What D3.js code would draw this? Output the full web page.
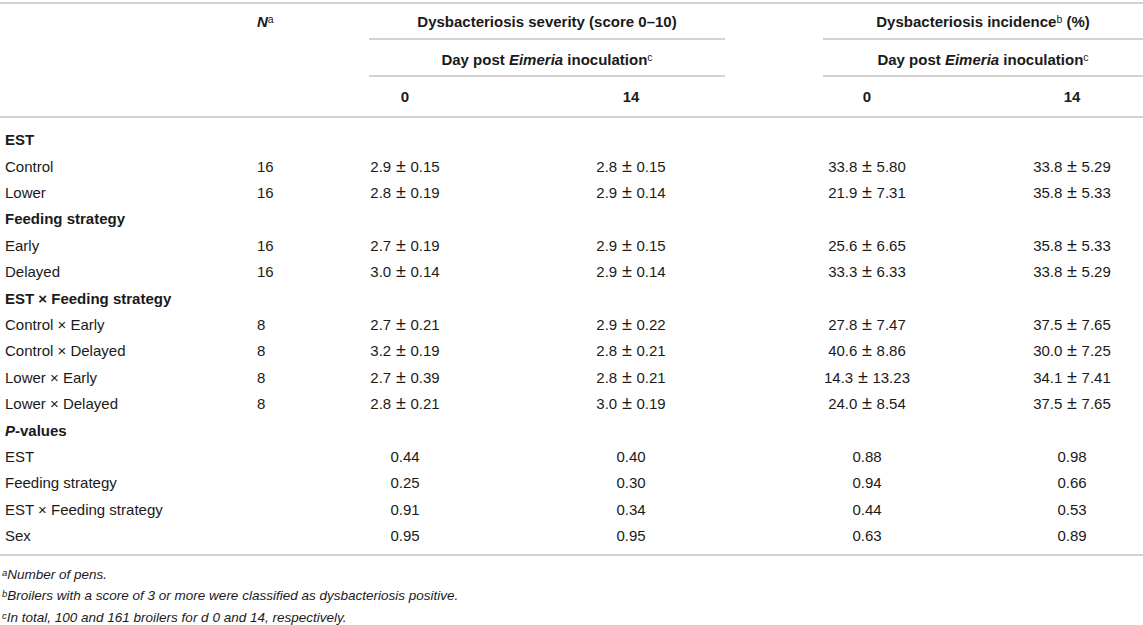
<!DOCTYPE html>
<html>
<head>
<meta charset="utf-8">
<script src="https://cdn.jsdelivr.net/npm/d3@7"></script>
<style>
    body { margin: 0; background: #fff; }
    svg text { font-family: "Liberation Sans", Arial, Helvetica, sans-serif; fill: #1a1a1a; }
</style>
</head>
<body>
<div id="chart"></div>
<script>
// Treatment rows
const groupLabels = ["EST", "Feeding strategy", "EST × Feeding strategy"];
const rowLabels = ["Control", "Lower", "Early", "Delayed",
    "Control × Early", "Control × Delayed", "Lower × Early", "Lower × Delayed"];
const rowGroup = [0, 0, 1, 1, 2, 2, 2, 2];
const nPens = [16, 16, 16, 16, 8, 8, 8, 8];

// Dysbacteriosis severity (mean, SE)
const sev0Mean = [2.9, 2.8, 2.7, 3.0, 2.7, 3.2, 2.7, 2.8];
const sev0SE = [0.15, 0.19, 0.19, 0.14, 0.21, 0.19, 0.39, 0.21];
const sev14Mean = [2.8, 2.9, 2.9, 2.9, 2.9, 2.8, 2.8, 3.0];
const sev14SE = [0.15, 0.14, 0.15, 0.14, 0.22, 0.21, 0.21, 0.19];

// Dysbacteriosis incidence (mean, SE)
const inc0Mean = [33.8, 21.9, 25.6, 33.3, 27.8, 40.6, 14.3, 24.0];
const inc0SE = [5.80, 7.31, 6.65, 6.33, 7.47, 8.86, 13.23, 8.54];
const inc14Mean = [33.8, 35.8, 35.8, 33.8, 37.5, 30.0, 34.1, 37.5];
const inc14SE = [5.29, 5.33, 5.33, 5.29, 7.65, 7.25, 7.41, 7.65];

// P-values
const pLabels = ["EST", "Feeding strategy", "EST × Feeding strategy", "Sex"];
const sevP0 = [0.44, 0.25, 0.91, 0.95];
const sevP14 = [0.40, 0.30, 0.34, 0.95];
const incP0 = [0.88, 0.94, 0.44, 0.63];
const incP14 = [0.98, 0.66, 0.53, 0.89];

const dayLabels = ["0", "14"];
const footnotes = [
    {sup: "a", text: "Number of pens."},
    {sup: "b", text: "Broilers with a score of 3 or more were classified as dysbacteriosis positive."},
    {sup: "c", text: "In total, 100 and 161 broilers for d 0 and 14, respectively."}
];

const width = 1143, height = 625;
const lineColor = "#c4c4c4";

const svg = d3.select("#chart").append("svg")
    .attr("width", width)
    .attr("height", height);

// Column centres
const colX = d3.scaleOrdinal()
    .domain(["sev0", "sev14", "inc0", "inc14"])
    .range([405, 631, 867, 1072]);
const labelX = 5, nX = 257;

// Body rows (16 lines: groups, treatments, p-values)
const y = d3.scaleLinear().domain([0, 15]).range([140, 536]);

const fmt1 = d3.format(".1f"), fmt2 = d3.format(".2f");

function hline(x1, x2, yy) {
    svg.append("line")
        .attr("x1", x1).attr("x2", x2)
        .attr("y1", yy).attr("y2", yy)
        .attr("stroke", lineColor)
        .attr("stroke-width", 1.5);
}

function txt(x, yy, anchor, weight) {
    return svg.append("text")
        .attr("x", x).attr("y", yy)
        .attr("dy", "0.35em")
        .attr("text-anchor", anchor)
        .style("font-size", "15px")
        .style("font-weight", weight || "normal");
}

// mean ± SE, the sign a little larger than the digits
function pmCell(x, yy, m, s) {
    const t = txt(x, yy, "middle");
    t.append("tspan").text(fmt1(m) + " ");
    t.append("tspan").attr("dx", 0.5).style("font-size", "18px").text("±");
    t.append("tspan").attr("dx", 0.5).text(" " + fmt2(s));
    return t;
}

function sup(t, s) {
    t.append("tspan")
        .attr("baseline-shift", "35%")
        .style("font-size", "10.5px")
        .style("font-weight", "normal")
        .text(s);
}

// Header
hline(0, width, 3);
const hN = txt(nX, 22, "start", "bold");
hN.append("tspan").style("font-style", "italic").text("N");
sup(hN, "a");

txt(547, 22, "middle", "bold").text("Dysbacteriosis severity (score 0–10)");
const hInc = txt(983, 22, "middle", "bold");
hInc.append("tspan").text("Dysbacteriosis incidence");
sup(hInc, "b");
hInc.append("tspan").text(" (%)");

hline(369, 725, 39);
hline(823, width, 39);

[547, 983].forEach(cx => {
    const t = txt(cx, 60, "middle", "bold");
    t.append("tspan").text("Day post ");
    t.append("tspan").style("font-style", "italic").text("Eimeria");
    t.append("tspan").text(" inoculation");
    sup(t, "c");
});

hline(369, 725, 76);
hline(823, width, 76);

["sev0", "sev14", "inc0", "inc14"].forEach((k, i) => {
    txt(colX(k), 97, "middle", "bold").text(dayLabels[i % 2]);
});

hline(0, width, 117);

// Body
let r = 0;
groupLabels.forEach((g, gi) => {
    txt(labelX, y(r++), "start", "bold").text(g);
    rowLabels.forEach((lab, i) => {
        if (rowGroup[i] !== gi) return;
        const yy = y(r++);
        txt(labelX, yy, "start").text(lab);
        txt(nX, yy, "start").text(nPens[i]);
        pmCell(colX("sev0"), yy, sev0Mean[i], sev0SE[i]);
        pmCell(colX("sev14"), yy, sev14Mean[i], sev14SE[i]);
        pmCell(colX("inc0"), yy, inc0Mean[i], inc0SE[i]);
        pmCell(colX("inc14"), yy, inc14Mean[i], inc14SE[i]);
    });
});

const pHead = txt(labelX, y(r++), "start", "bold");
pHead.append("tspan").style("font-style", "italic").text("P");
pHead.append("tspan").text("-values");

pLabels.forEach((lab, i) => {
    const yy = y(r++);
    txt(labelX, yy, "start").text(lab);
    txt(colX("sev0"), yy, "middle").text(fmt2(sevP0[i]));
    txt(colX("sev14"), yy, "middle").text(fmt2(sevP14[i]));
    txt(colX("inc0"), yy, "middle").text(fmt2(incP0[i]));
    txt(colX("inc14"), yy, "middle").text(fmt2(incP14[i]));
});

hline(0, width, 555);

// Footnotes
const fy = d3.scaleLinear().domain([0, 2]).range([574, 617]);
footnotes.forEach((f, i) => {
    const t = svg.append("text")
        .attr("x", 2).attr("y", fy(i))
        .attr("dy", "0.35em")
        .style("font-size", "13.5px")
        .style("font-style", "italic");
    t.append("tspan").attr("baseline-shift", "35%").style("font-size", "9.5px").text(f.sup);
    t.append("tspan").text(f.text);
});
</script>
</body>
</html>
